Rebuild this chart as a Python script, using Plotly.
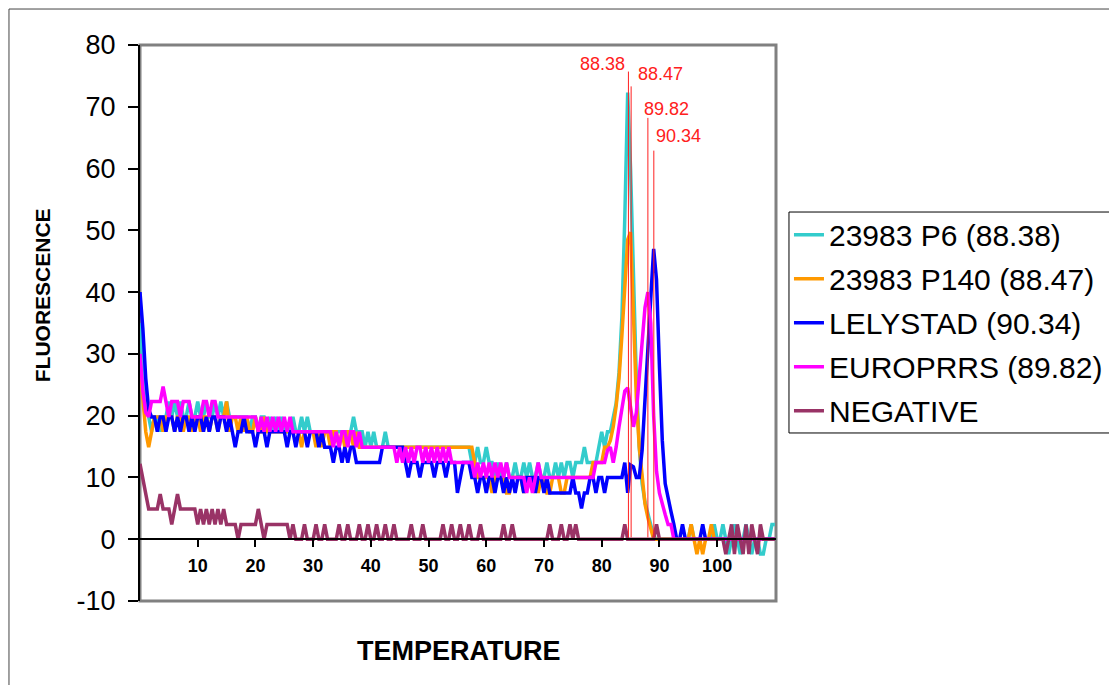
import plotly.graph_objects as go

# ---------------- data ----------------
# temperature index (category axis), step 0.5
temperature = [i * 0.5 for i in range(221)]

series_names = ["23983 P6 (88.38)", "23983 P140 (88.47)", "LELYSTAD (90.34)",
                "EUROPRRS (89.82)", "NEGATIVE"]

p6 = [
    35, 28, 22, 19.8, 17.4, 19.8, 19.8, 17.4, 19.8, 19.8,
    22.3, 19.8, 22.3, 19.8, 22.3, 19.8, 19.8, 22.3, 19.8, 19.8,
    22.3, 19.8, 19.8, 22.3, 19.8, 19.8, 22.3, 19.8, 22.3, 19.8,
    22.3, 19.8, 19.8, 19.8, 19.8, 19.8, 19.8, 19.8, 17.4, 19.8,
    19.8, 17.4, 19.8, 19.8, 17.4, 19.8, 17.4, 19.8, 17.4, 19.8,
    17.4, 17.4, 17.4, 19.8, 17.4, 17.4, 19.8, 17.4, 19.8, 17.4,
    17.4, 17.4, 17.4, 17.4, 17.4, 17.4, 17.4, 17.4, 17.4, 17.4,
    17.4, 17.4, 17.4, 17.4, 19.8, 17.4, 17.4, 17.4, 14.9, 17.4,
    14.9, 17.4, 14.9, 14.9, 14.9, 17.4, 14.9, 14.9, 14.9, 14.9,
    14.9, 14.9, 14.9, 14.9, 14.9, 14.9, 14.9, 14.9, 14.9, 14.9,
    14.9, 14.9, 14.9, 14.9, 14.9, 14.9, 14.9, 14.9, 14.9, 14.9,
    14.9, 14.9, 14.9, 14.9, 14.9, 12.4, 12.4, 14.9, 12.4, 12.4,
    14.9, 12.4, 12.4, 10.0, 12.4, 10.0, 10.0, 12.4, 10.0, 10.0,
    12.4, 10.0, 10.0, 12.4, 10.0, 12.4, 10.0, 10.0, 12.4, 10.0,
    10.0, 12.4, 10.0, 10.0, 12.4, 10.0, 12.4, 10.0, 12.4, 12.4,
    10.0, 12.4, 12.4, 12.4, 14.9, 12.4, 12.4, 12.4, 12.4, 14.9,
    17.4, 14.9, 17.4, 17.4, 19.8, 22, 27, 36, 52, 72.3,
    60, 42, 26, 15, 9, 6, 4, 2.4, 0.5, 0,
    0, 0, 0, 0, 0, 0, 0, 0, 0, 0,
    0, 2.4, 0, 0, 0, 0, 0, 0, 0, 2.4,
    0, 0, 2.4, 0, -2.4, 0, 2.4, 0, -2.4, 0,
    2.4, 0, -2.4, 0, 0, -2.4, -2.4, 0, 0, 2.4,
    2.4,
]

p140 = [
    28, 22, 17.4, 14.9, 17.4, 19.8, 19.8, 19.8, 17.4, 19.8,
    19.8, 19.8, 17.4, 19.8, 19.8, 17.4, 19.8, 19.8, 17.4, 19.8,
    19.8, 17.4, 19.8, 19.8, 17.4, 19.8, 19.8, 17.4, 19.8, 19.8,
    22.3, 17.4, 19.8, 19.8, 17.4, 19.8, 17.4, 19.8, 17.4, 17.4,
    19.8, 17.4, 17.4, 19.8, 17.4, 17.4, 17.4, 17.4, 17.4, 17.4,
    17.4, 17.4, 17.4, 17.4, 17.4, 17.4, 14.9, 17.4, 17.4, 17.4,
    17.4, 14.9, 17.4, 14.9, 17.4, 17.4, 14.9, 17.4, 17.4, 14.9,
    17.4, 14.9, 17.4, 17.4, 14.9, 17.4, 14.9, 14.9, 14.9, 14.9,
    14.9, 14.9, 14.9, 14.9, 14.9, 14.9, 14.9, 14.9, 14.9, 14.9,
    14.9, 14.9, 14.9, 14.9, 14.9, 14.9, 14.9, 14.9, 14.9, 14.9,
    14.9, 14.9, 14.9, 14.9, 14.9, 14.9, 14.9, 14.9, 14.9, 14.9,
    14.9, 14.9, 14.9, 14.9, 14.9, 14.9, 12.4, 10.0, 10.0, 10.0,
    10.0, 10.0, 7.5, 10.0, 10.0, 10.0, 10.0, 7.5, 7.5, 10.0,
    10.0, 10.0, 10.0, 7.5, 10.0, 10.0, 10.0, 10.0, 7.5, 10.0,
    10.0, 7.5, 7.5, 10.0, 10.0, 10.0, 7.5, 7.5, 10.0, 10.0,
    10.0, 10.0, 10.0, 10.0, 10.0, 10.0, 10.0, 12.4, 12.4, 12.4,
    12.4, 14.9, 14.9, 16, 18.2, 21.5, 26, 33, 42, 48.5,
    49.7, 38, 23, 15, 10, 5.7, 3.5, 1.5, 0, 0,
    0, 0, 0, 0, 0, 0, 0, 0, 0, 0,
    0, 2.4, 0, -2.4, 0, -2.4, 0, 0, 2.4, 0,
    0, 0, 0, 0, 0, 0, 0, 0, 0, 0,
    0, 0, 0, 0, 0, 0, 0, 0, 0, 0,
    0,
]

lelystad = [
    40, 34, 26, 21, 19.8, 19.8, 17.4, 19.8, 19.8, 17.4,
    19.8, 19.8, 17.4, 19.8, 17.4, 19.8, 19.8, 17.4, 19.8, 17.4,
    19.8, 19.8, 17.4, 19.8, 17.4, 19.8, 19.8, 17.4, 19.8, 19.8,
    17.4, 19.8, 17.4, 14.9, 17.4, 17.4, 19.8, 17.4, 17.4, 17.4,
    14.9, 17.4, 17.4, 17.4, 14.9, 17.4, 17.4, 17.4, 17.4, 17.4,
    17.4, 14.9, 17.4, 17.4, 14.9, 17.4, 17.4, 17.4, 14.9, 17.4,
    17.4, 17.4, 14.9, 17.4, 14.9, 14.9, 14.9, 12.4, 14.9, 14.9,
    12.4, 14.9, 12.4, 14.9, 14.9, 12.4, 12.4, 12.4, 12.4, 12.4,
    12.4, 12.4, 12.4, 12.4, 14.9, 14.9, 14.9, 14.9, 14.9, 14.9,
    14.9, 14.9, 12.4, 10.0, 12.4, 12.4, 12.4, 10.0, 12.4, 12.4,
    12.4, 12.4, 10.0, 12.4, 12.4, 12.4, 10.0, 12.4, 12.4, 12.4,
    7.5, 10.0, 12.4, 12.4, 12.4, 10.0, 10.0, 7.5, 10.0, 10.0,
    7.5, 10.0, 10.0, 7.5, 10.0, 10.0, 7.5, 10.0, 7.5, 10.0,
    7.5, 10.0, 10.0, 7.5, 10.0, 10.0, 10.0, 7.5, 10.0, 10.0,
    7.5, 10.0, 7.5, 7.5, 7.5, 7.5, 7.5, 7.5, 7.5, 7.5,
    10.0, 7.5, 7.5, 5.0, 7.5, 7.5, 10.0, 10.0, 7.5, 10.0,
    10.0, 7.5, 10.0, 10.0, 10.0, 10.0, 10.0, 10.0, 12.4, 7.5,
    12.0, 11.7, 10.0, 10.0, 14.4, 23.5, 31, 39, 47, 42,
    28, 16, 9, 6.5, 4.5, 2.4, 0, 0, 2.4, 0,
    0, 0, 0, 0, 0, 2.4, 0, 0, 0, 0,
    0, 0, 0, 0, 0, 0, 0, 0, 0, 0,
    0, 0, 0, 0, 0, 0, 0, 0, 0, 0,
    0,
]

europrrs = [
    30, 24, 20.5, 19.8, 22.3, 22.3, 22.3, 22.3, 24.7, 22.3,
    19.8, 22.3, 22.3, 22.3, 19.8, 22.3, 22.3, 22.3, 19.8, 19.8,
    19.8, 19.8, 22.3, 22.3, 19.8, 22.3, 22.3, 19.8, 19.8, 19.8,
    19.8, 19.8, 19.8, 19.8, 19.8, 19.8, 19.8, 19.8, 19.8, 19.8,
    19.8, 17.4, 19.8, 17.4, 19.8, 17.4, 19.8, 17.4, 19.8, 17.4,
    19.8, 17.4, 19.8, 17.4, 17.4, 17.4, 17.4, 17.4, 17.4, 17.4,
    17.4, 17.4, 17.4, 17.4, 17.4, 17.4, 17.4, 14.9, 17.4, 14.9,
    17.4, 17.4, 14.9, 17.4, 17.4, 14.9, 17.4, 14.9, 14.9, 14.9,
    14.9, 14.9, 14.9, 14.9, 14.9, 14.9, 14.9, 14.9, 14.9, 12.4,
    14.9, 12.4, 14.9, 12.4, 14.9, 12.4, 14.9, 14.9, 12.4, 14.9,
    12.4, 14.9, 12.4, 14.9, 12.4, 14.9, 12.4, 14.9, 12.4, 12.4,
    12.4, 12.4, 12.4, 12.4, 12.4, 12.4, 10.0, 12.4, 10.0, 12.4,
    10.0, 12.4, 10.0, 12.4, 10.0, 12.4, 10.0, 12.4, 10.0, 10.0,
    10.0, 10.0, 10.0, 10.0, 7.5, 10.0, 7.5, 10.0, 12.4, 10.0,
    10.0, 10.0, 10.0, 10.0, 10.0, 10.0, 10.0, 10.0, 10.0, 10.0,
    10.0, 10.0, 10.0, 10.0, 10.0, 10.0, 10.0, 10.0, 12.4, 12.4,
    12.4, 12.4, 14.4, 14.9, 12.4, 14.9, 18.2, 21.5, 24, 24.5,
    20.8, 18.2, 20.5, 26, 32, 37.5, 40, 35, 20, 11,
    7.5, 5.5, 4, 2.4, 2.4, 0, 0, 0, 0, 0,
    0, 0, 0, 0, 0, 0, 0, 0, 0, 0,
    0, 0, 0, 0, 0, 0, 0, 0, 0, 0,
    0, 0, 0, 0, 0, 0, 0, 0, 0, 0,
    0,
]

negative = [
    12.2, 9.7, 7.3, 4.9, 4.9, 4.9, 4.9, 7.3, 4.9, 4.9,
    4.9, 2.4, 4.9, 7.3, 4.9, 4.9, 4.9, 4.9, 4.9, 4.9,
    2.4, 4.9, 2.4, 4.9, 2.4, 4.9, 2.4, 4.9, 2.4, 4.9,
    2.4, 2.4, 2.4, 2.4, 0, 2.4, 2.4, 2.4, 2.4, 2.4,
    2.4, 4.9, 2.4, 0, 2.4, 2.4, 2.4, 2.4, 2.4, 2.4,
    2.4, 2.4, 0, 2.4, 0, 0, 0, 2.4, 0, 0,
    0, 2.4, 0, 0, 2.4, 0, 0, 0, 0, 2.4,
    0, 0, 2.4, 0, 0, 0, 2.4, 0, 0, 2.4,
    0, 0, 2.4, 0, 0, 2.4, 0, 0, 2.4, 0,
    0, 0, 0, 0, 2.4, 0, 0, 0, 2.4, 0,
    0, 0, 0, 0, 0, 2.4, 0, 0, 2.4, 0,
    0, 2.4, 0, 0, 2.4, 0, 0, 0, 2.4, 0,
    0, 0, 0, 0, 0, 0, 2.4, 0, 0, 2.4,
    0, 0, 0, 0, 0, 0, 0, 0, 0, 0,
    0, 0, 2.4, 0, 0, 0, 2.4, 0, 0, 2.4,
    0, 2.4, 0, 0, 0, 0, 0, 0, 0, 0,
    0, 0, 0, 0, 0, 0, 0, 0, 2.4, 0,
    0, 0, 0, 0, 0, 0, 0, 0, 0, 2.4,
    0, 0, 0, 0, 0, 0, 0, 0, 0, 0,
    0, 0, 0, 0, 0, 0, 0, 0, 0, 0,
    0, 0, 0, -2.4, 0, 2.4, -2.4, 2.4, 0, -2.4,
    2.4, -2.4, 2.4, 0, -2.4, 2.4, 0, 0, 0, 0,
    0,
]

# melting peaks (label, position on axis, height of marker line)
peak_labels = ["88.38", "88.47", "89.82", "90.34"]
peak_x = [84.63, 85.1, 88.0, 89.03]
peak_top = [75.7, 73.3, 68.2, 62.9]

x_ticks = [10, 20, 30, 40, 50, 60, 70, 80, 90, 100]
y_ticks = [-10, 0, 10, 20, 30, 40, 50, 60, 70, 80]
y_tick_text = ["-10", "0", "10", "20", "30", "40", "50", "60", "70", "80"]

# ---------------- style ----------------
colors = ["#33CCCC", "#FF9900", "#0000FF", "#FF00FF", "#993366"]
FONT = "Liberation Sans, Arial, sans-serif"
label_offsets = [(-4.5, 1.3), (5.0, 2.0), (3.3, 1.5), (4.3, 2.4)]

fig = go.Figure()
all_series = [p6, p140, lelystad, europrrs, negative]
for name, vals, col in zip(series_names, all_series, colors):
    fig.add_trace(go.Scatter(
        x=temperature, y=vals, name=name, mode="lines",
        line=dict(color=col, width=3.5), legendgroup=name,
    ))

shapes = [
    # outer chart border
    dict(type="rect", xref="paper", yref="paper", x0=-0.206, x1=1.6,
         y0=-0.3, y1=1.0647, line=dict(color="#444444", width=1), layer="below"),
    # plot-area frame
    dict(type="rect", xref="paper", yref="paper", x0=0, x1=1, y0=0, y1=1,
         line=dict(color="#808080", width=3), layer="below"),
    # legend box (runs off the right edge, as in the original)
    dict(type="rect", xref="paper", yref="paper", x0=1.0204, x1=1.6,
         y0=0.3022, y1=0.6996, line=dict(color="black", width=1),
         fillcolor="white", layer="below"),
]
annotations = []
for lab, px, top, (dx, dy) in zip(peak_labels, peak_x, peak_top, label_offsets):
    shapes.append(dict(type="line", xref="x", yref="y", x0=px, x1=px, y0=0.3, y1=top,
                       line=dict(color="#FF2020", width=1), layer="above"))
    annotations.append(dict(x=px + dx, y=top + dy, xref="x", yref="y", text=lab,
                            showarrow=False, xanchor="center", yanchor="middle",
                            font=dict(family=FONT, size=18, color="#FF2020")))

annotations.append(dict(text="<b>FLUORESCENCE</b>", xref="paper", yref="paper",
                        x=-0.154, y=0.55, textangle=-90, showarrow=False,
                        xanchor="center", yanchor="middle",
                        font=dict(family=FONT, size=21, color="black")))
annotations.append(dict(text="<b>TEMPERATURE</b>", xref="paper", yref="paper",
                        x=0.5008, y=-0.09, showarrow=False,
                        xanchor="center", yanchor="middle",
                        font=dict(family=FONT, size=27, color="black")))

fig.update_layout(
    width=1109, height=677,
    margin=dict(l=132, r=341, t=37, b=84, autoexpand=False),
    paper_bgcolor="white", plot_bgcolor="white",
    font=dict(family=FONT, color="black"),
    shapes=shapes, annotations=annotations,
    legend=dict(x=1.0204, y=0.7055, xanchor="left", yanchor="top",
                borderwidth=0, bgcolor="rgba(0,0,0,0)",
                font=dict(family=FONT, size=30, color="black"),
                tracegroupgap=2, itemwidth=30),
    xaxis=dict(range=[0, 110.2], tickvals=x_ticks, ticks="outside", ticklen=7,
               tickwidth=1.5, tickcolor="black", showline=True, linecolor="black",
               linewidth=1.5, anchor="free", position=10 / 90, showgrid=False,
               zeroline=False, ticklabelstandoff=3,
               tickfont=dict(family=FONT, size=18, weight="bold")),
    yaxis=dict(range=[-10, 80], tickvals=y_ticks, ticktext=y_tick_text,
               ticks="outside", ticklen=10, ticklabelstandoff=7,
               tickwidth=1.5, tickcolor="black", showline=True, linecolor="black",
               linewidth=2, showgrid=False, zeroline=False,
               tickfont=dict(family=FONT, size=27)),
)

fig.write_html("out.html")
